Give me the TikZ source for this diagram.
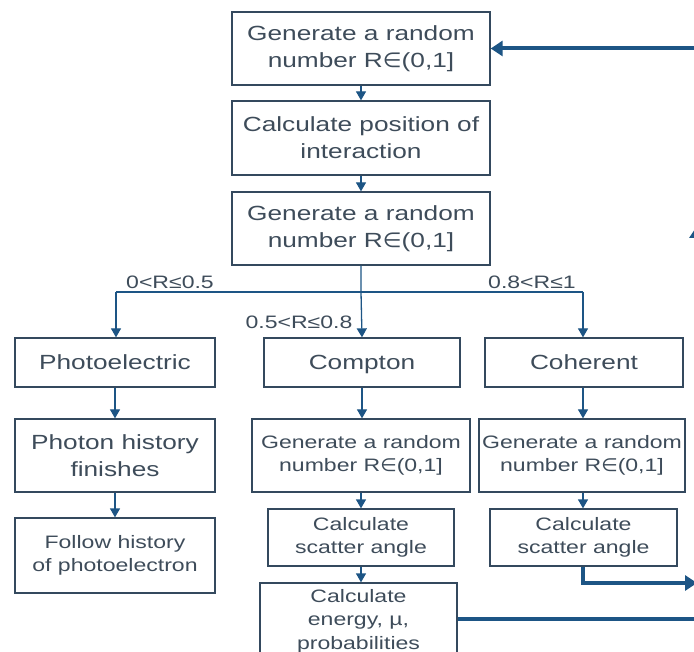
\documentclass[tikz,border=0pt]{standalone}
\usepackage{fontspec}
\setmainfont{Liberation Sans}[FakeStretch=1.28]
\newfontfamily\symf{DejaVu Sans}[FakeStretch=1.05]
\usetikzlibrary{arrows.meta}
\definecolor{boxc}{HTML}{34495E}
\definecolor{txtc}{HTML}{3E4C5A}
\definecolor{arrc}{HTML}{1D5585}
\newcommand{\elm}{{\symf ∈}}
\tikzset{
  box/.style={draw=boxc, line width=1.3pt, fill=white, text=txtc, align=center, inner sep=0pt},
  big/.style={font=\fontsize{20.5}{27}\selectfont},
  small/.style={font=\fontsize{18}{23.5}\selectfont},
  oneline/.style={text height=14.7pt, text depth=0pt},
  thin/.style={draw=arrc, line width=1.3pt, -{Triangle[length=9pt,width=10pt]}},
  thick/.style={draw=arrc, line width=4pt},
  thickarr/.style={thick, -{Triangle[length=12pt,width=15pt]}},
  lab/.style={text=txtc, font=\fontsize{18}{22}\selectfont, inner sep=0pt}
}
\begin{document}
\begin{tikzpicture}[x=1pt,y=-1pt]
\useasboundingbox (0,0) rectangle (694,652);
\clip (0,0) rectangle (694,652);
\fill[white] (0,0) rectangle (694,652);
% main column
\node[box,big,minimum width=258pt,minimum height=73pt] (b1) at (361,48.5) {Generate a random\\ number R\elm(0,1]};
\node[box,big,minimum width=258pt,minimum height=74pt] (b2) at (361,138) {Calculate position of\\interaction};
\node[box,big,minimum width=258pt,minimum height=73pt] (b3) at (361,228.5) {Generate a random\\ number R\elm(0,1]};
% row 1
\node[box,big,oneline,minimum width=200pt,minimum height=49pt] (p1) at (115,362.5) {Photoelectric};
\node[box,big,oneline,minimum width=196pt,minimum height=49pt] (c1) at (362,362.5) {Compton};
\node[box,big,oneline,minimum width=198pt,minimum height=49pt] (h1) at (584,362.5) {Coherent};
% row 2
\node[box,big,minimum width=200pt,minimum height=73pt] (p2) at (115,455.5) {Photon history\\finishes};
\node[box,small,minimum width=218pt,minimum height=73pt] (c2) at (361,455.5) {Generate a random\\ number R\elm(0,1]};
\node[box,small,minimum width=206pt,minimum height=73pt] (h2) at (582,455.5) {Generate a random\\ number R\elm(0,1]};
% row 3
\node[box,small,minimum width=200pt,minimum height=75pt] (p3) at (115,555.5) {Follow history\\of photoelectron};
\node[box,small,minimum width=186pt,minimum height=57pt] (c3) at (361,537.5) {Calculate\\scatter angle};
\node[box,small,minimum width=187pt,minimum height=57pt] (h3) at (583.5,537.5) {Calculate\\scatter angle};
\node[box,small,minimum width=197pt,minimum height=76pt] (c4) at (358.5,621) {Calculate\\energy, µ,\\probabilities};
% labels
\node[lab] (l1) at (170,282) {0<R≤0.5};
\node[lab] (l2) at (299,322) {0.5<R≤0.8};
\node[lab] (l3) at (532,282) {0.8<R≤1};
% coordinates
\coordinate (j0) at (361,292);
\coordinate (jl) at (116,292);
\coordinate (jr) at (583,292);
\coordinate (r1) at (697,619);
\coordinate (r2) at (697,226);
\coordinate (r3) at (697,48.5);
\coordinate (k1) at (583,583);
\coordinate (k2) at (697,583);
% thin arrows
\draw[thin] (b1) -- (b2);
\draw[thin] (b2) -- (b3);
\draw[thin] (b3.south) -- (j0) -- (c1.north);
\draw[draw=arrc, line width=1.3pt] (jl) -- (jr);
\draw[thin] (jl) -- (jl |- p1.north);
\draw[thin] (jr) -- (jr |- h1.north);
\draw[thin] (p1) -- (p2);
\draw[thin] (p2) -- (p3);
\draw[thin] (c1.south) -- (c1.south |- c2.north);
\draw[thin] (c2.south) -- (c2.south |- c3.north);
\draw[thin] (c3.south) -- (c3.south |- c4.north);
\draw[thin] (h1.south -| jr) -- (jr |- h2.north);
\draw[thin] (jr |- h2.south) -- (jr |- h3.north);
% thick feedback lines
\draw[thickarr] (c4.east |- r1) -- (r1) -- (r2);
\draw[thickarr] (r2) -- (r3) -- (b1.east);
\draw[thickarr] (h3.south -| k1) -- (k1) -- (k2);
\end{tikzpicture}
\end{document}
